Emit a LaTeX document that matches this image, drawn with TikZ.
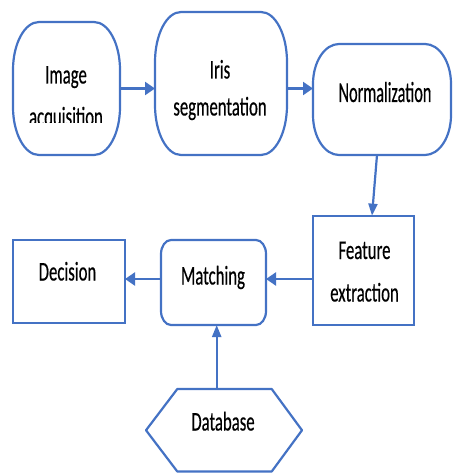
\documentclass[tikz,border=0pt]{standalone}
\usepackage{fontspec}
\usetikzlibrary{arrows.meta,calc}
\newfontfamily\calA[FakeStretch=0.62,FakeBold=0.4]{Carlito}
\newfontfamily\calB[FakeStretch=0.56,FakeBold=0.4]{Carlito}
\definecolor{flowblue}{HTML}{4472C4}
\tikzset{
  frame/.style={draw=none, inner sep=0pt, outer sep=0pt},
  blueline/.style={draw=flowblue, line width=2.2pt, line join=round},
  rectbox/.style={frame, draw=flowblue, line width=2.2pt},
  txt/.style={anchor=base, inner sep=0pt, font=\calA\fontsize{27}{30}\selectfont},
  bigtxt/.style={txt, font=\calB\fontsize{29}{32}\selectfont},
  harrow/.style={blueline, -{Triangle[length=10pt,width=13pt]}},
  varrow/.style={blueline, -{Triangle[length=12pt,width=9pt]}},
}
% rounded box with elliptical corners drawn around node #1, corner radii #2 (x) and #3 (y)
\newcommand\ebox[3]{%
  \draw[blueline] let \p1=(#1.north west), \p2=(#1.south east) in
    (\x1+#2pt,\y1) -- (\x2-#2pt,\y1)
    .. controls (\x2-0.4477*#2pt,\y1) and (\x2,\y1-0.4477*#3pt) .. (\x2,\y1-#3pt)
    -- (\x2,\y2+#3pt)
    .. controls (\x2,\y2+0.4477*#3pt) and (\x2-0.4477*#2pt,\y2) .. (\x2-#2pt,\y2)
    -- (\x1+#2pt,\y2)
    .. controls (\x1+0.4477*#2pt,\y2) and (\x1,\y2+0.4477*#3pt) .. (\x1,\y2+#3pt)
    -- (\x1,\y1-#3pt)
    .. controls (\x1,\y1-0.4477*#3pt) and (\x1+0.4477*#2pt,\y1) .. (\x1+#2pt,\y1)
    -- cycle;}
\begin{document}
\begin{tikzpicture}[x=1pt,y=-1pt]
\useasboundingbox (0,0) rectangle (452,473);

% frames of the blocks
\node[frame, minimum width=107pt, minimum height=133pt] (ia) at (66.5,88.5) {};
\node[frame, minimum width=132pt, minimum height=143pt] (is) at (221,83.5) {};
\node[frame, minimum width=138pt, minimum height=111pt] (nm) at (382,99.5) {};
\node[rectbox, minimum width=101pt, minimum height=109.3pt] (fe) at (363.5,270.3) {};
\node[frame, minimum width=105pt, minimum height=85pt] (m) at (213.5,282.5) {};
\node[rectbox, minimum width=112pt, minimum height=83pt] (d) at (69,281.5) {};
\node[frame, minimum width=156pt, minimum height=82.5pt] (db) at (224,430.25) {};

\ebox{ia}{26}{48}
\ebox{is}{26}{50}
\ebox{nm}{26}{40}
\ebox{m}{10}{14}
\draw[blueline] (db.west) -- ([xshift=31.3pt]db.north west) -- ([xshift=-30.3pt]db.north east)
  -- (db.east) -- ([xshift=-30.3pt]db.south east) -- ([xshift=31.3pt]db.south west) -- cycle;

% texts
\node[txt] (t-ia1) at (66,83.5) {Image};
\node[txt] (t-ia2) at (66,125.5) {acquisition};
\fill[white] (27,123.5) rectangle (106,140);
\node[txt] (t-is1) at (220,78.5) {Iris};
\node[txt] (t-is2) at (220,115.5) {segmentation};
\node[bigtxt] (t-nm) at (385,102) {Normalization};
\node[txt] (t-fe1) at (364.5,259) {Feature};
\node[txt] (t-fe2) at (364.5,301.5) {extraction};
\node[txt] (t-m) at (213,284.5) {Matching};
\node[txt] (t-d) at (67.5,280.5) {Decision};
\node[txt] (t-db) at (223,430.5) {Database};

% connectors
\coordinate (mE) at ([yshift=3.5pt]m.east);
\coordinate (mW) at ([yshift=3.5pt]m.west);
\coordinate (mS) at ([xshift=3.2pt]m.south);
\draw[harrow] (ia.east) -- (ia.east -| is.west);
\draw[harrow] (is.east |- ia.east) -- (ia.east -| nm.west);
\draw[varrow] ([xshift=-5pt]nm.south) -- ([xshift=8.5pt]fe.north);
\draw[harrow] (mE -| fe.west) -- (mE);
\draw[harrow] (mW) -- (mW -| d.east);
\draw[varrow] (mS |- db.north) -- (mS);
\end{tikzpicture}
\end{document}
